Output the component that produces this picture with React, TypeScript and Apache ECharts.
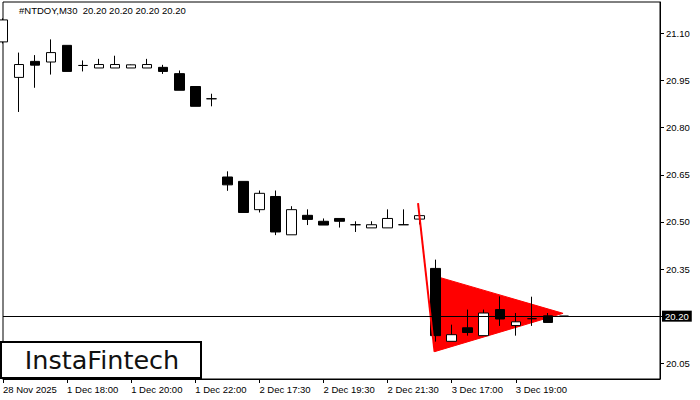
import React, { useEffect, useRef } from 'react';
import * as echarts from 'echarts';

const categories = [
  '28 Nov 2025', '1 Dec 16:30', '1 Dec 17:00', '1 Dec 17:30', '1 Dec 18:00', '1 Dec 18:30',
  '1 Dec 19:00', '1 Dec 19:30', '1 Dec 20:00', '1 Dec 20:30', '1 Dec 21:00', '1 Dec 21:30',
  '1 Dec 22:00', '1 Dec 22:30', '2 Dec 16:30', '2 Dec 17:00', '2 Dec 17:30', '2 Dec 18:00',
  '2 Dec 18:30', '2 Dec 19:00', '2 Dec 19:30', '2 Dec 20:00', '2 Dec 20:30', '2 Dec 21:00',
  '2 Dec 21:30', '2 Dec 22:00', '2 Dec 22:30', '3 Dec 16:30', '3 Dec 17:00', '3 Dec 17:30',
  '3 Dec 18:00', '3 Dec 18:30', '3 Dec 19:00', '3 Dec 19:30', '3 Dec 20:00', '3 Dec 20:30',
  '3 Dec 21:00', '3 Dec 21:30', '3 Dec 22:00', '3 Dec 22:30', '4 Dec 16:30', '4 Dec 17:00',
];

const tickLabels = [
  '28 Nov 2025', '1 Dec 18:00', '1 Dec 20:00', '1 Dec 22:00', '2 Dec 17:30',
  '2 Dec 19:30', '2 Dec 21:30', '3 Dec 17:00', '3 Dec 19:00',
];

const opens = [
  21.073, 20.960, 21.011, 21.009, 21.062, 20.998, 20.990, 20.990, 20.990, 20.990,
  20.992, 20.972, 20.931, 20.892, 20.643, 20.629, 20.539, 20.581, 20.459, 20.521,
  20.502, 20.511, 20.491, 20.481, 20.481, 20.491, 20.509, 20.352, 20.120, 20.163,
  20.138, 20.221, 20.170, 20.192, 20.201, 20.20,
];
const closes = [
  21.143, 21.001, 20.999, 21.039, 20.979, 20.998, 21.001, 21.001, 21.000, 21.001,
  20.979, 20.919, 20.868, 20.892, 20.618, 20.530, 20.591, 20.468, 20.539, 20.508,
  20.490, 20.502, 20.491, 20.491, 20.511, 20.491, 20.520, 20.138, 20.141, 20.148,
  20.210, 20.191, 20.182, 20.192, 20.180, 20.20,
];
const lows = [
  21.068, 20.850, 20.927, 20.969, 20.979, 20.979, 20.990, 20.990, 20.990, 20.990,
  20.971, 20.919, 20.868, 20.868, 20.599, 20.530, 20.530, 20.458, 20.459, 20.490,
  20.490, 20.482, 20.468, 20.481, 20.481, 20.491, 20.492, 20.119, 20.120, 20.138,
  20.138, 20.169, 20.138, 20.169, 20.180, 20.20,
];
const highs = [
  21.148, 21.039, 21.031, 21.081, 21.062, 21.014, 21.019, 21.029, 21.001, 21.019,
  21.000, 20.982, 20.931, 20.908, 20.661, 20.629, 20.600, 20.600, 20.550, 20.540,
  20.511, 20.511, 20.502, 20.502, 20.540, 20.540, 20.530, 20.380, 20.173, 20.221,
  20.221, 20.263, 20.210, 20.262, 20.210, 20.20,
];

const yTicks = [20.05, 20.2, 20.35, 20.5, 20.65, 20.8, 20.95, 21.1];
const yLabels = [20.05, 20.35, 20.5, 20.65, 20.8, 20.95, 21.1];
const currentPrice = 20.2;

// pattern points: [category index (fractional), price]
const poleTop = [25.9, 20.56];
const poleBottom = [26.93, 20.087];
const pennantTopLeft = [26.93, 20.328];
const pennantBottomLeft = [26.93, 20.087];
const pennantApex = [34.95, 20.209];

const FONT = '"Liberation Sans", Arial, sans-serif';
const FS = 9.5;

function toPx(api: any, p: number[]) {
  const i = Math.floor(p[0]);
  const a = api.coord([i, p[1]]);
  const b = api.coord([i + 1, p[1]]);
  return [a[0] + (p[0] - i) * (b[0] - a[0]), a[1]];
}

export default function App() {
  const ref = useRef<HTMLDivElement>(null);
  useEffect(() => {
    const chart = echarts.init(ref.current!, null, { renderer: 'svg' });
    const candleData = opens.map((o, i) => [o, closes[i], lows[i], highs[i]]);
    chart.setOption({
      animation: false,
      backgroundColor: '#fff',
      grid: {
        left: 2, right: 40, top: 2, bottom: 21,
        show: true, borderColor: '#000', borderWidth: 1, backgroundColor: '#fff',
      },
      xAxis: {
        type: 'category',
        data: categories,
        boundaryGap: false,
        axisLine: { show: true, lineStyle: { color: '#000', width: 1 } },
        axisTick: {
          show: true, length: 4, lineStyle: { color: '#000' },
          interval: (_i: number, v: string) => tickLabels.includes(v),
        },
        axisLabel: {
          interval: (_i: number, v: string) => tickLabels.includes(v),
          align: 'left', margin: 5, color: '#000', fontSize: FS, fontFamily: FONT,
        },
        splitLine: { show: false },
      },
      yAxis: {
        type: 'value',
        position: 'right',
        min: 20.0,
        max: 21.2,
        scale: true,
        splitLine: { show: false },
        axisLine: { show: true, lineStyle: { color: '#000', width: 1 } },
        axisTick: { show: true, length: 4, lineStyle: { color: '#000' }, customValues: yTicks },
        axisLabel: {
          customValues: yLabels,
          formatter: (v: number) => v.toFixed(2),
          margin: 6, color: '#000', fontSize: FS, fontFamily: FONT,
        },
      },
      series: [
        {
          type: 'custom',
          z: 1,
          silent: true,
          clip: true,
          data: [[0, currentPrice]],
          renderItem: (_params: any, api: any) => {
            const pts = [pennantTopLeft, pennantApex, pennantBottomLeft].map((p) => toPx(api, p));
            return {
              type: 'polygon',
              shape: { points: pts },
              style: { fill: '#ff0000', stroke: '#ff0000', lineWidth: 1 },
            };
          },
        },
        {
          type: 'candlestick',
          z: 2,
          clip: true,
          silent: true,
          barWidth: 10,
          data: candleData,
          itemStyle: {
            color: '#ffffff', color0: '#000000',
            borderColor: '#000000', borderColor0: '#000000', borderWidth: 1,
          },
          markLine: {
            silent: true,
            symbol: ['none', 'none'],
            lineStyle: { color: '#000', width: 1, type: 'solid' },
            label: {
              show: true, position: 'end', distance: 2,
              formatter: () => currentPrice.toFixed(2),
              color: '#fff', backgroundColor: '#000', padding: [1, 3, 0, 3],
              fontSize: FS, fontFamily: FONT,
            },
            data: [{ yAxis: currentPrice }],
          },
        },
        {
          type: 'custom',
          z: 3,
          silent: true,
          clip: true,
          data: [[0, currentPrice]],
          renderItem: (_params: any, api: any) => {
            const pts = [poleTop, poleBottom].map((p) => toPx(api, p));
            return {
              type: 'polyline',
              shape: { points: pts },
              style: { fill: null, stroke: '#ff0000', lineWidth: 2 },
            };
          },
        },
      ],
      graphic: [
        {
          type: 'text', left: 19, top: 5, z: 10,
          style: { text: '#NTDOY,M30  20.20 20.20 20.20 20.20', fill: '#000', fontSize: FS, fontFamily: FONT },
        },
        {
          type: 'rect', z: 10,
          shape: { x: 1, y: 342, width: 200, height: 36 },
          style: { fill: '#fff', stroke: '#000', lineWidth: 2 },
        },
        {
          type: 'text', z: 11, x: 102, y: 360,
          style: {
            text: 'InstaFintech', fill: '#111', fontSize: 25.5, fontFamily: '"DejaVu Sans", sans-serif',
            textAlign: 'center', textVerticalAlign: 'middle',
          },
        },
      ],
    });
    return () => chart.dispose();
  }, []);
  return <div ref={ref} style={{ position: 'fixed', left: 0, top: 0, width: 700, height: 400 }} />;
}
